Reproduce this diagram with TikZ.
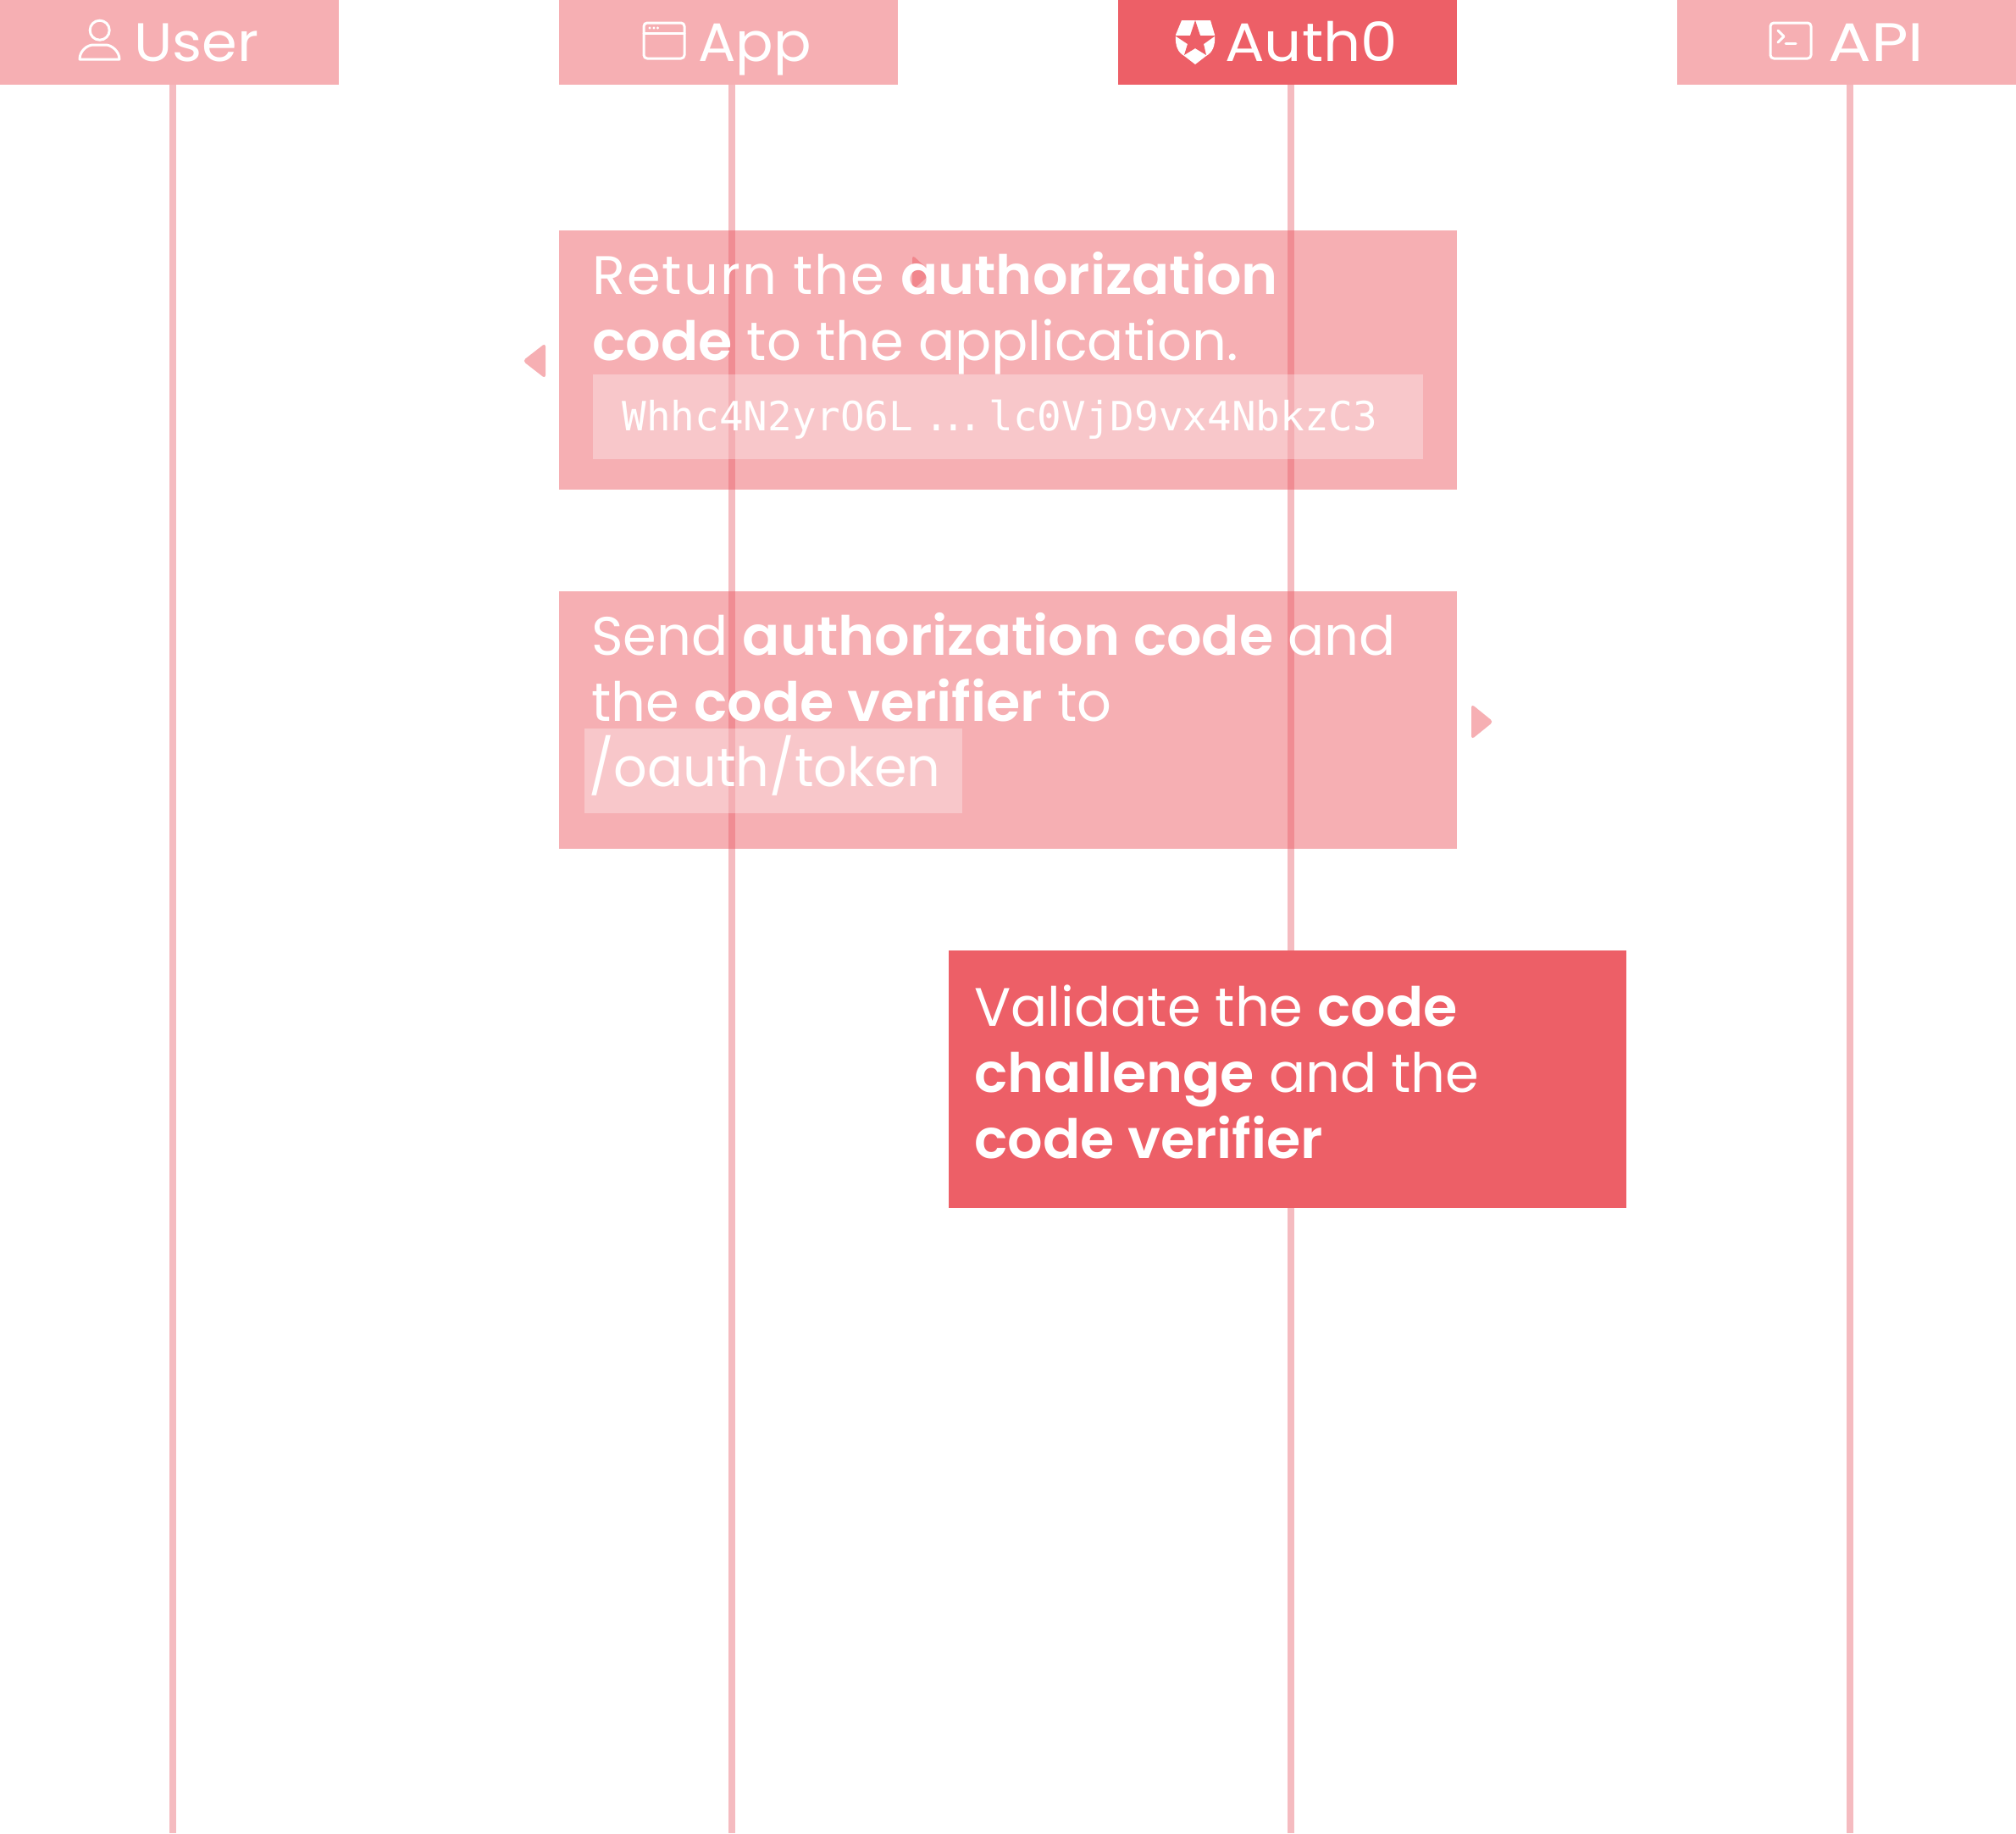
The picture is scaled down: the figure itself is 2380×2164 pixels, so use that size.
\documentclass[tikz,border=0pt]{standalone}
\usepackage{fontspec}
\setmainfont{Poppins}[BoldFont={Poppins SemiBold}, BoldFeatures={FakeStretch=1.02}]
\newfontfamily\codefont{DejaVu Sans Mono}
\definecolor{authred}{HTML}{ED5F67}
\definecolor{lifepink}{HTML}{F5BBC0}
\tikzset{
    lifeline/.style={draw=lifepink, line width=8*0.02cm},
    headbox/.style={fill=authred, fill opacity=0.5, minimum width=8cm, minimum height=2cm, inner sep=0pt},
    headtext/.style={text=white, anchor=base west, inner sep=0pt, font=\fontsize{36.4}{44.4}\selectfont},
    stepbox/.style={fill=authred, fill opacity=0.5, minimum height=6.1cm, inner sep=0pt},
    codebox/.style={fill=white, fill opacity=0.3, minimum height=2cm, inner sep=0pt},
    steptext/.style={text=white, anchor=north west, inner sep=0pt, align=left, font=\fontsize{36.4}{44.4}\selectfont},
    tiparrow/.style={fill=authred, fill opacity=0.5, rounded corners=0.08cm},
    iconline/.style={draw=white, line width=0.06cm, line join=round, line cap=round}
}
\begin{document}
\begin{tikzpicture}[x=0.02cm, y=-0.02cm]
    \useasboundingbox (0,0) rectangle (2380,2164);

    % Header boxes
    \node[headbox] (user) at (200,50) {};
    \node[headbox] (app) at (860,50) {};
    \node[headbox, fill opacity=1] (auth) at (1520,50) {};
    \node[headbox] (api) at (2180,50) {};

    % Lifelines
    \coordinate (userend) at (204,2164);
    \coordinate (append) at (864,2164);
    \coordinate (authend) at (1524,2164);
    \coordinate (apiend) at (2184,2164);
    \draw[lifeline] (user.south -| userend) -- (userend);
    \draw[lifeline] (app.south -| append) -- (append);
    \draw[lifeline] (auth.south -| authend) -- (authend);
    \draw[lifeline] (api.south -| apiend) -- (apiend);

    % Header labels
    \node[headtext] (usertext) at (158,72) {\addfontfeature{FakeStretch=1.05}User};
    \node[headtext] (apptext) at (824,72) {\addfontfeature{FakeStretch=1.03}App};
    \node[headtext] (authtext) at (1446,72) {\addfontfeature{FakeStretch=1.08}Auth0};
    \node[headtext] (apitext) at (2158,72) {\addfontfeature{FakeStretch=1.18}API};

    % User icon
    \draw[iconline] (117.7,35.7) circle (11.5);
    \draw[iconline] (94,70) -- (141,70) .. controls (141,60) and (131,53) .. (125,53) -- (110,53) .. controls (103,53) and (94,60) .. (94,70) -- cycle;

    % App icon
    \draw[iconline, rounded corners=0.08cm] (760,27) rectangle (808,69);
    \draw[iconline] (760,39) -- (808,39);
    \fill[white] (767,33) circle (1.6) (772,33) circle (1.6) (776.5,33) circle (1.6);

    % Auth0 icon
    \fill[white] (1395,24) -- (1429,24) -- (1434,41) .. controls (1435,55) and (1431,62) .. (1424,66) -- (1411,76) -- (1398,66) .. controls (1391,62) and (1387,55) .. (1388,41) -- cycle;
    \fill[authred] (1411,24) -- (1417,42) -- (1435,42) -- (1421,52) -- (1424,65) -- (1411,57) -- (1398,65) -- (1402,52) -- (1387,42) -- (1405,42) -- cycle;

    % API icon
    \draw[iconline, rounded corners=0.08cm] (2090,27) rectangle (2138,69);
    \draw[iconline] (2099,36) -- (2106,43) -- (2099,50);
    \draw[iconline] (2108,51) -- (2120,51);

    % First step
    \node[stepbox, minimum width=21.2cm, minimum height=6.12cm] (returnbox) at (1190,425) {};
    \node[codebox, minimum width=19.6cm] (codebox1) at (1190,492) {};
    \fill[tiparrow] (644,405) -- (644,447) -- (617,426) -- cycle;
    \fill[tiparrow] (1077,301) -- (1077,343) -- (1100,322) -- cycle;
    \node[steptext] (returntext) at (699,297) {{\addfontfeature{LetterSpace=3.2}Return the} \textbf{authorization}\\\textbf{code} to the application.};
    \node[text=white, anchor=base west, inner sep=0pt, font=\codefont\fontsize{27.1}{32}\selectfont] (codetext) at (734,508) {Whhc4N2yrO6L\kern7.4pt.\kern-5pt.\kern-5pt.\kern4.5pt lc0VjD9vx4NbkzC3};

    % Second step
    \node[stepbox, minimum width=21.2cm, minimum height=6.08cm] (sendbox) at (1190,850) {};
    \node[codebox, minimum width=8.92cm] (codebox2) at (913,910) {};
    \fill[tiparrow] (1737,831) -- (1737,873) -- (1763,852) -- cycle;
    \node[steptext] (sendtext) at (698,723) {Send \textbf{authorization code} and\\the \textbf{code verifier} to};
    \node[headtext] (tokentext) at (695,928) {\addfontfeature{FakeStretch=0.97}/oauth/token};

    % Third step
    \node[stepbox, minimum width=16cm, minimum height=6.08cm, fill opacity=1] (validbox) at (1520,1274) {};
    \node[steptext] (validtext) at (1150,1162) {Validate the \textbf{code}\\\textbf{challenge} and the\\\textbf{code verifier}};
\end{tikzpicture}
\end{document}
